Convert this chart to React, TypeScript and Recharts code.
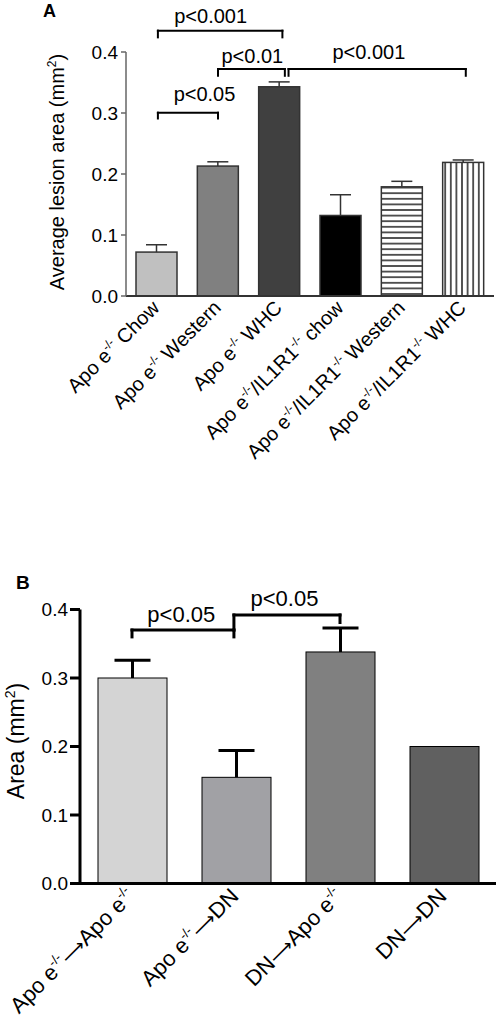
import React from 'react';
import { BarChart, Bar, XAxis, YAxis, ReferenceLine, ReferenceDot } from 'recharts';

const FONT = '"Liberation Sans", Arial, Helvetica, sans-serif';

// ---- Panel A data ----
const groupsA = [
  'Apo e-/- Chow',
  'Apo e-/- Western',
  'Apo e-/- WHC',
  'Apo e-/-/IL1R1-/- chow',
  'Apo e-/-/IL1R1-/- Western',
  'Apo e-/-/IL1R1-/- WHC',
];
const meanA = [0.072, 0.213, 0.343, 0.132, 0.179, 0.219];
const semA = [0.012, 0.007, 0.008, 0.034, 0.009, 0.004];
const fillsA = ['#c0c0c0', '#808080', '#404040', '#000000', 'url(#hstripe)', 'url(#vstripe)'];

// ---- Panel B data ----
const groupsB = ['Apo e-/-⟶Apo e-/-', 'Apo e-/-⟶DN', 'DN⟶Apo e-/-', 'DN⟶DN'];
const meanB = [0.3, 0.155, 0.338, 0.2];
const semB = [0.026, 0.039, 0.035, 0];
const fillsB = ['#d4d4d4', '#a1a1a5', '#808080', '#606060'];

const yTicks = [0, 0.1, 0.2, 0.3, 0.4];

// significance brackets (x in category-index units, y in data units)
const sigA = [
  { from: 0.02, to: 2.05, y: 0.435, yl: 0.424, yr: 0.424, text: 'p<0.001', tx: 0.88, ty: 0.448 },
  { from: 1.0, to: 2.09, y: 0.372, yl: 0.361, yr: 0.361, text: 'p<0.01', tx: 1.56, ty: 0.3815 },
  { from: 2.15, to: 5.04, y: 0.372, yl: 0.361, yr: 0.361, text: 'p<0.001', tx: 3.46, ty: 0.388 },
  { from: 0.02, to: 1.0, y: 0.3005, yl: 0.291, yr: 0.291, text: 'p<0.05', tx: 0.78, ty: 0.32 },
];
const sigB = [
  { from: 0.0, to: 0.98, y: 0.37, yl: 0.36, yr: 0.36, text: 'p<0.05', tx: 0.474, ty: 0.382 },
  { from: 0.98, to: 2.0, y: 0.392, yl: 0.37, yr: 0.381, text: 'p<0.05', tx: 1.466, ty: 0.405 },
];

const dataA = groupsA.map((g, i) => ({ group: g, mean: meanA[i], sem: semA[i] }));
const dataB = groupsB.map((g, i) => ({ group: g, mean: meanB[i], sem: semB[i] }));

const SupParts = ({ text, fs }: { text: string; fs: number }) => {
  const parts = text.split(/(-\/-|⟶)/).filter((p) => p !== '');
  const sup = Math.round(fs * 0.6);
  const rise = Math.round(fs * 0.4);
  let raised = false;
  return (
    <>
      {parts.map((p, i) => {
        if (p === '-/-') {
          raised = true;
          return (
            <tspan key={i} fontSize={sup} dy={-rise}>
              {p}
            </tspan>
          );
        }
        const dy = raised ? rise : 0;
        raised = false;
        if (p === '⟶') {
          return (
            <tspan key={i} dy={dy} fontFamily='"DejaVu Sans", sans-serif' fontSize={Math.round(fs * 0.8)}>
              {p}
            </tspan>
          );
        }
        return (
          <tspan key={i} dy={dy}>
            {p}
          </tspan>
        );
      })}
    </>
  );
};

const RotTick = (props: any) => {
  const { x, y, payload, fs, dx, dy } = props;
  return (
    <g transform={`translate(${x + dx},${y + dy})`}>
      <text x={0} y={0} transform="rotate(-45)" textAnchor="end" fontSize={fs} fontFamily={FONT} fill="#000">
        <SupParts text={String(payload.value)} fs={fs} />
      </text>
    </g>
  );
};

const makeShape = (fills: string[], stroke: string, sw: number, errStroke: string, errW: number, capHalf: number) =>
  (props: any) => {
    const { x, y, width, height, index, payload } = props;
    const ppu = payload.mean ? height / payload.mean : 0;
    const ey = y - payload.sem * ppu;
    const cx = x + width / 2;
    return (
      <g>
        <rect x={x} y={y} width={width} height={height} fill={fills[index]} stroke={stroke} strokeWidth={sw} />
        {payload.sem > 0 && (
          <g stroke={errStroke} strokeWidth={errW}>
            <line x1={cx} y1={y} x2={cx} y2={ey} />
            <line x1={cx - capHalf} y1={ey} x2={cx + capHalf} y2={ey} />
          </g>
        )}
      </g>
    );
  };

const brackets = (sig: any[], sw: number, fs: number) => {
  const out: any[] = [];
  sig.forEach((s, i) => {
    const common = { xAxisId: 'n', ifOverflow: 'visible' as const, stroke: '#000', strokeWidth: sw, strokeLinecap: 'square' as const };
    out.push(<ReferenceLine key={`h${i}`} {...common} segment={[{ x: s.from, y: s.y }, { x: s.to, y: s.y }]} />);
    out.push(<ReferenceLine key={`l${i}`} {...common} segment={[{ x: s.from, y: s.y }, { x: s.from, y: s.yl }]} />);
    out.push(<ReferenceLine key={`r${i}`} {...common} segment={[{ x: s.to, y: s.y }, { x: s.to, y: s.yr }]} />);
    out.push(
      <ReferenceDot
        key={`t${i}`}
        xAxisId="n"
        x={s.tx}
        y={s.ty}
        r={0}
        fill="none"
        stroke="none"
        ifOverflow="visible"
        label={{ value: s.text, position: 'top', offset: 0, fontSize: fs, fill: '#000', fontFamily: FONT }}
      />
    );
  });
  return out;
};

export default function App() {
  return (
    <div style={{ position: 'absolute', left: 0, top: 0, width: 498, height: 1035, background: '#fff', fontFamily: FONT }}>
      <svg width={0} height={0} style={{ position: 'absolute' }}>
        <defs>
          <pattern id="hstripe" patternUnits="userSpaceOnUse" width={10} height={5.6}>
            <rect x={0} y={0} width={10} height={5.6} fill="#fff" />
            <line x1={0} y1={2.8} x2={10} y2={2.8} stroke="#000" strokeWidth={1.3} />
          </pattern>
          <pattern id="vstripe" patternUnits="userSpaceOnUse" width={5.6} height={10}>
            <rect x={0} y={0} width={5.6} height={10} fill="#fff" />
            <line x1={2.8} y1={0} x2={2.8} y2={10} stroke="#000" strokeWidth={1.3} />
          </pattern>
        </defs>
      </svg>

      <div style={{ position: 'absolute', left: 0, top: 0 }}>
        <BarChart width={498} height={560} data={dataA} margin={{ top: 52, right: 4, bottom: 0, left: 0 }} barSize={41}>
          <XAxis
            dataKey="group"
            type="category"
            interval={0}
            tickLine={false}
            tickSize={0}
            tickMargin={0}
            height={264}
            axisLine={{ stroke: '#333', strokeWidth: 2 }}
            tick={(p: any) => <RotTick {...p} fs={20} dx={4} dy={13} />}
          />
          <XAxis xAxisId="n" dataKey="mean" type="number" domain={[-0.5, 5.5]} hide allowDataOverflow />
          <YAxis
            type="number"
            domain={[0, 0.4]}
            ticks={yTicks}
            allowDataOverflow
            width={126}
            tickFormatter={(v: number) => v.toFixed(1)}
            axisLine={{ stroke: '#666', strokeWidth: 1.5 }}
            tickLine={{ stroke: '#666', strokeWidth: 1.5 }}
            tickSize={5}
            tickMargin={3}
            tick={{ fontSize: 19, fill: '#000', fontFamily: FONT }}
          />
          <Bar dataKey="mean" isAnimationActive={false} shape={makeShape(fillsA, '#333', 1.5, '#333', 1.5, 10.5)} />
          {brackets(sigA, 2, 20)}
        </BarChart>
      </div>

      <div style={{ position: 'absolute', left: 0, top: 560 }}>
        <BarChart width={498} height={475} data={dataB} margin={{ top: 49.5, right: 2, bottom: 0, left: 0 }} barSize={69}>
          <XAxis
            dataKey="group"
            type="category"
            interval={0}
            tickLine={false}
            tickSize={0}
            tickMargin={0}
            height={151.5}
            axisLine={{ stroke: '#000', strokeWidth: 3 }}
            tick={(p: any) => <RotTick {...p} fs={22} dx={4} dy={14} />}
          />
          <XAxis xAxisId="n" dataKey="mean" type="number" domain={[-0.5, 3.5]} hide allowDataOverflow />
          <YAxis
            type="number"
            domain={[0, 0.4]}
            ticks={yTicks}
            allowDataOverflow
            width={80}
            tickFormatter={(v: number) => v.toFixed(1)}
            axisLine={{ stroke: '#000', strokeWidth: 3 }}
            tickLine={{ stroke: '#000', strokeWidth: 3 }}
            tickSize={10}
            tickMargin={2}
            tick={{ fontSize: 19, fill: '#000', fontFamily: FONT }}
          />
          <Bar dataKey="mean" isAnimationActive={false} shape={makeShape(fillsB, '#000', 1, '#000', 3, 18)} />
          {brackets(sigB, 3, 22)}
        </BarChart>
      </div>

      <svg width={498} height={1035} style={{ position: 'absolute', left: 0, top: 0, pointerEvents: 'none' }}>
        <text x={43} y={17} fontSize={18} fontWeight="bold" fontFamily={FONT} fill="#000">A</text>
        <text x={16} y={589} fontSize={19} fontWeight="bold" fontFamily={FONT} fill="#000">B</text>
        <text x={64} y={172} transform="rotate(-90 64 172)" textAnchor="middle" fontSize={20} fontFamily={FONT} fill="#000">
          <tspan>Average lesion area (mm</tspan>
          <tspan fontSize={12} dy={-8}>2</tspan>
          <tspan dy={8}>)</tspan>
        </text>
        <text x={24} y={741} transform="rotate(-90 24 741)" textAnchor="middle" fontSize={23} fontFamily={FONT} fill="#000">
          <tspan>Area (mm</tspan>
          <tspan fontSize={14} dy={-9}>2</tspan>
          <tspan dy={9}>)</tspan>
        </text>
      </svg>
    </div>
  );
}
